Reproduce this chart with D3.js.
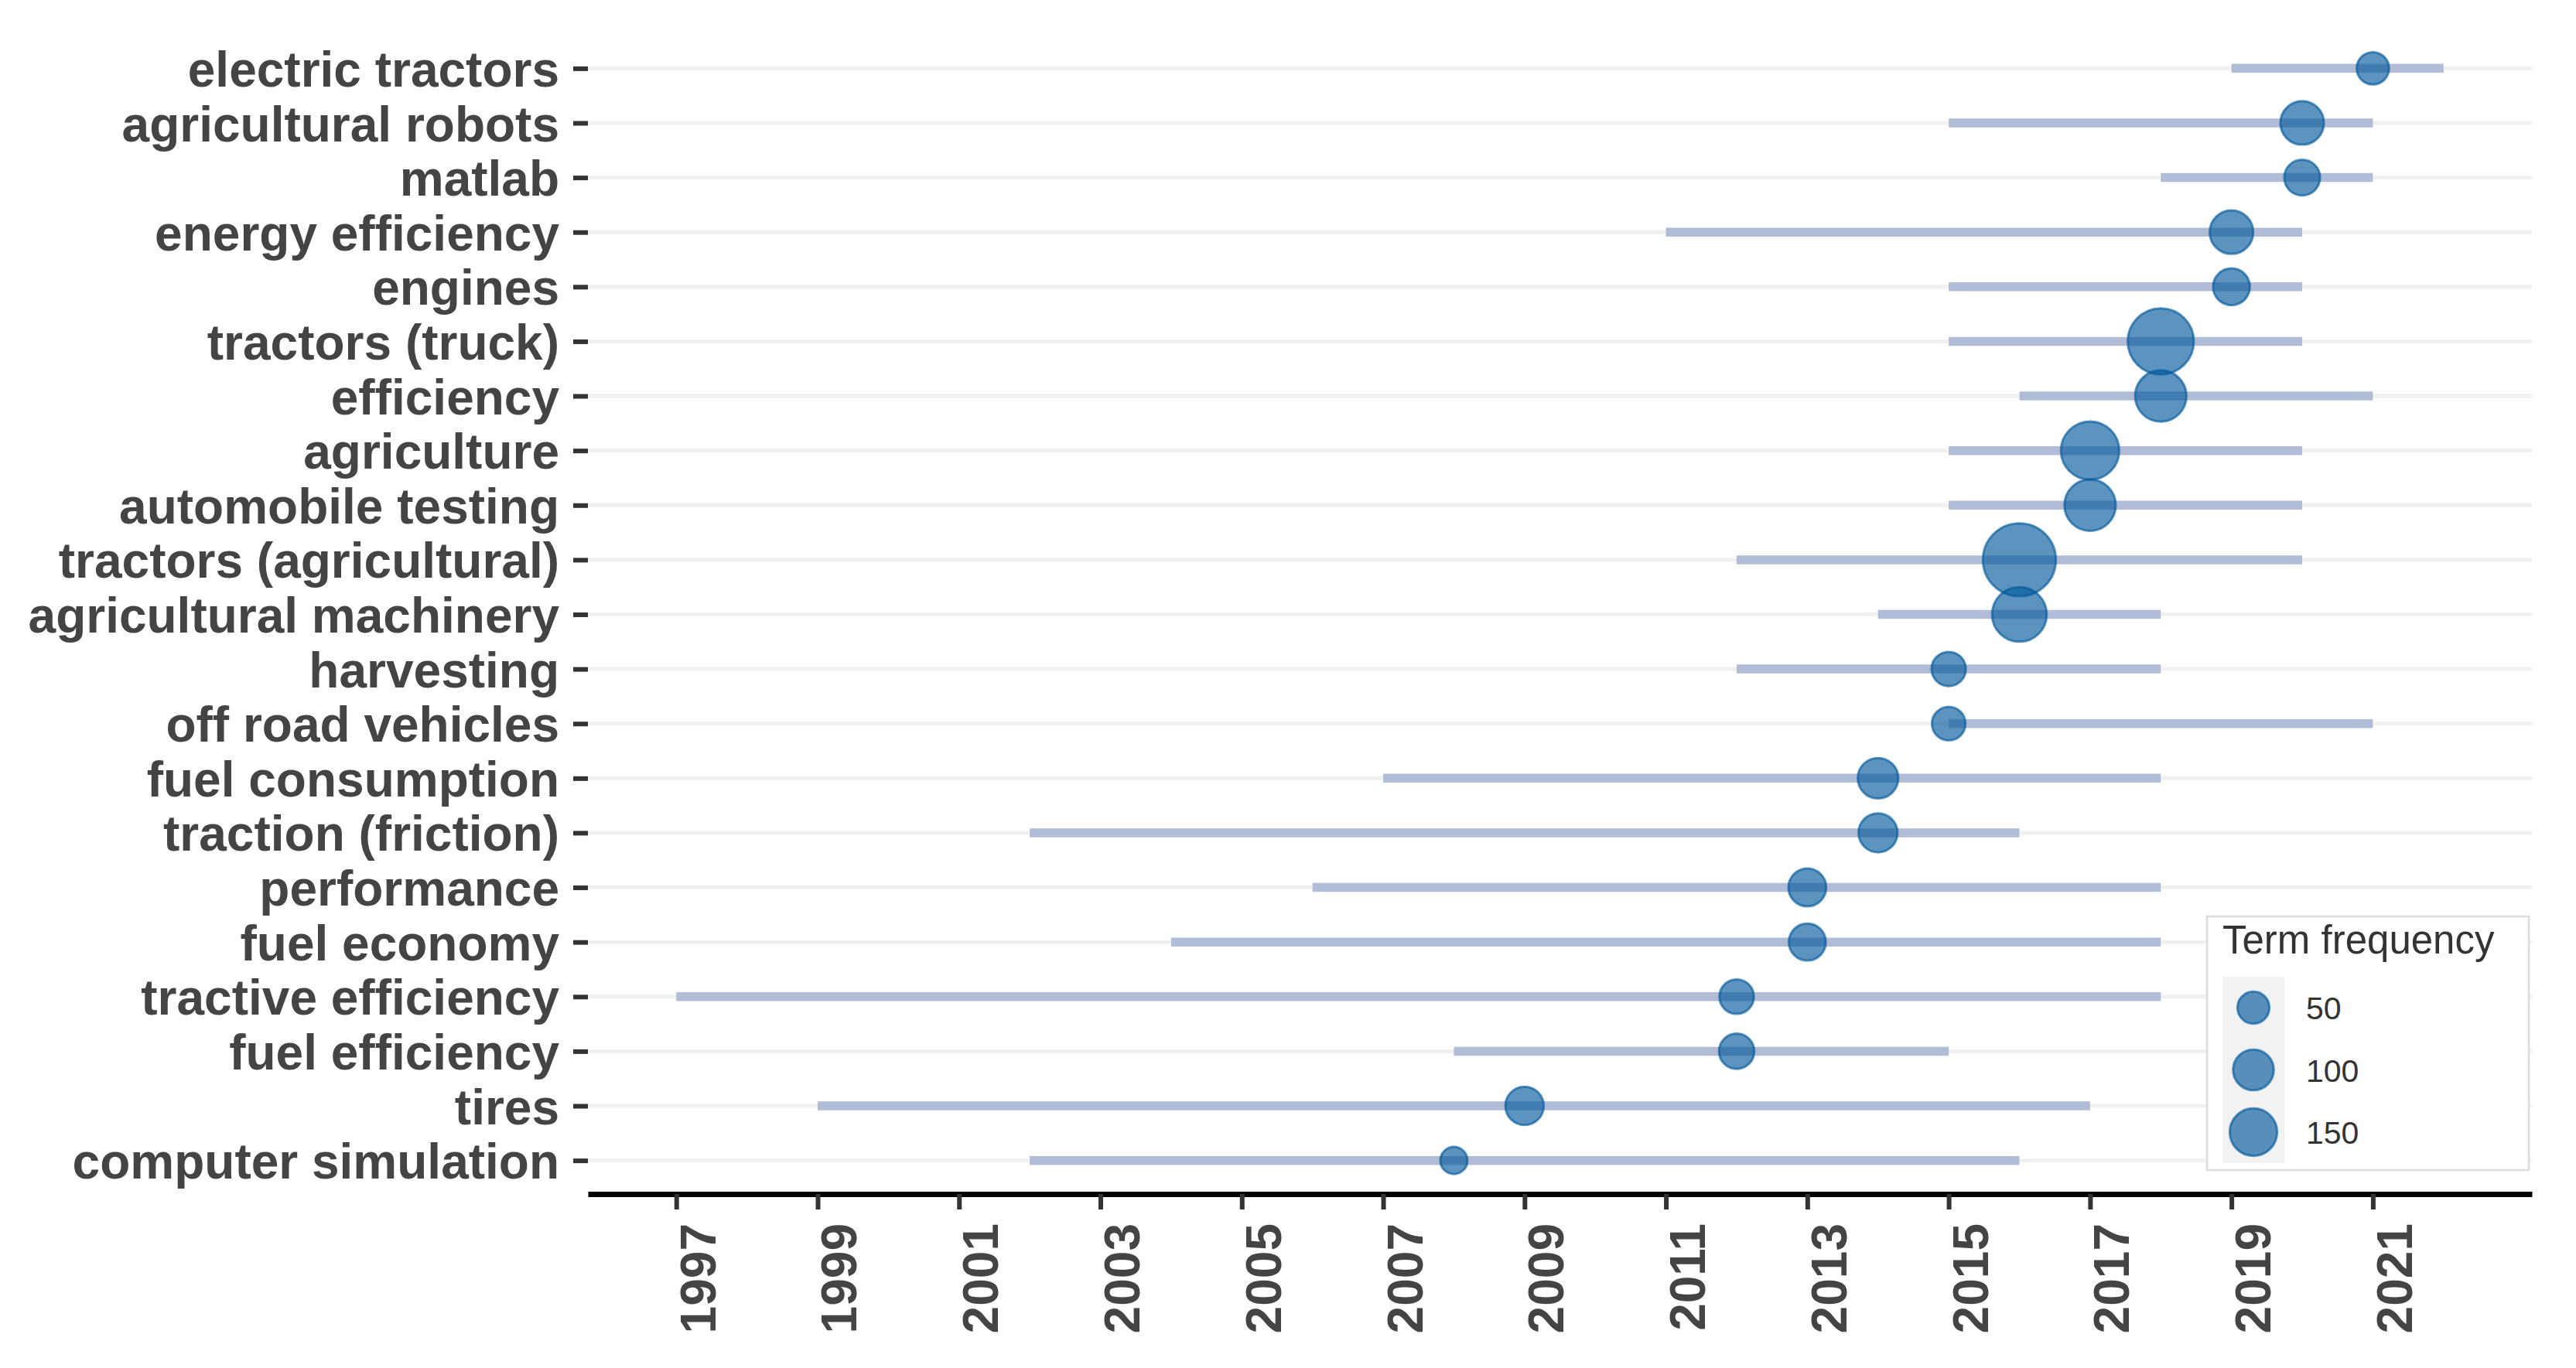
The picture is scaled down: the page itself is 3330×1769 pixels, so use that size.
<!DOCTYPE html>
<html>
<head>
<meta charset="utf-8">
<script src="https://cdn.jsdelivr.net/npm/d3@7"></script>
<style>
  body { margin: 0; background: #fff; }
  svg { display: block; font-family: "Liberation Sans", Arial, sans-serif; }
</style>
</head>
<body>
<div id="chart"></div>
<script>
// Terms, top to bottom
const terms = [
  "electric tractors", "agricultural robots", "matlab", "energy efficiency",
  "engines", "tractors (truck)", "efficiency", "agriculture",
  "automobile testing", "tractors (agricultural)", "agricultural machinery",
  "harvesting", "off road vehicles", "fuel consumption", "traction (friction)",
  "performance", "fuel economy", "tractive efficiency", "fuel efficiency",
  "tires", "computer simulation"
];
// first quartile year, median year, third quartile year, frequency
const yearQ1 = [2019, 2015, 2018, 2011, 2015, 2015, 2016, 2015, 2015, 2012, 2014,
                2012, 2015, 2007, 2002, 2006, 2004, 1997, 2008, 1999, 2002];
const yearMed = [2021, 2020, 2020, 2019, 2019, 2018, 2018, 2017, 2017, 2016, 2016,
                 2015, 2015, 2014, 2014, 2013, 2013, 2012, 2012, 2009, 2008];
const yearQ3 = [2022, 2021, 2021, 2020, 2020, 2020, 2021, 2020, 2020, 2020, 2018,
                2018, 2021, 2018, 2016, 2018, 2018, 2018, 2015, 2017, 2016];
const freq = [52, 120, 70, 120, 76, 343, 184, 252, 184, 433, 216,
              62, 58, 99, 89, 82, 77, 63, 67, 85, 30];

const yearTicks = [1997, 1999, 2001, 2003, 2005, 2007, 2009, 2011, 2013, 2015,
                   2017, 2019, 2021];
const legendBreaks = [50, 100, 150];

const data = terms.map((t, i) => ({
  term: t, q1: yearQ1[i], med: yearMed[i], q3: yearQ3[i], freq: freq[i]
}));

const W = 3330, H = 1769;
const plot = { left: 760, right: 3273, top: 46, bottom: 1543 };

const svg = d3.select("#chart").append("svg")
  .attr("width", W).attr("height", H);

const x = d3.scaleLinear().domain([1995.75, 2023.25]).range([plot.left, plot.right]);
const y = d3.scalePoint().domain(terms).range([plot.top, plot.bottom]).padding(0.6);
const r = d3.scaleSqrt().domain([0, 400]).range([7, 45.6]);

const dotColor = "#00589b";
const textColor = "#444";

// horizontal grid lines
svg.append("g").selectAll("line").data(terms).join("line")
  .attr("x1", plot.left).attr("x2", plot.right)
  .attr("y1", d => y(d)).attr("y2", d => y(d))
  .attr("stroke", "#f0f0f0").attr("stroke-width", 5);

// quartile ranges
svg.append("g").selectAll("line").data(data).join("line")
  .attr("x1", d => x(d.q1)).attr("x2", d => x(d.q3))
  .attr("y1", d => y(d.term)).attr("y2", d => y(d.term))
  .attr("stroke", "#b1bdd6").attr("stroke-width", 11.5);

// median points
svg.append("g").selectAll("circle").data(data).join("circle")
  .attr("cx", d => x(d.med)).attr("cy", d => y(d.term))
  .attr("r", d => r(d.freq))
  .attr("fill", dotColor).attr("fill-opacity", 0.64)
  .attr("stroke", dotColor).attr("stroke-opacity", 0.64).attr("stroke-width", 3);

// y axis (no domain line)
const yAxis = svg.append("g")
  .attr("transform", `translate(${plot.left},0)`)
  .call(d3.axisLeft(y).tickSize(19).tickPadding(18));
yAxis.select(".domain").remove();
yAxis.selectAll(".tick line").attr("stroke", "#333").attr("stroke-width", 6);
yAxis.selectAll(".tick text")
  .attr("fill", textColor).attr("font-size", 64).attr("font-weight", "bold")
  .attr("font-family", "'Liberation Sans', Arial, sans-serif")
  .attr("dy", "0.36em");

// x axis
const xAxis = svg.append("g")
  .attr("transform", `translate(0,${plot.bottom + 1})`)
  .call(d3.axisBottom(x).tickValues(yearTicks).tickFormat(d3.format("d"))
    .tickSize(20).tickSizeOuter(0));
xAxis.select(".domain").attr("stroke", "#000").attr("stroke-width", 7);
xAxis.selectAll(".tick line").attr("stroke", "#333").attr("stroke-width", 6);
xAxis.selectAll(".tick text")
  .attr("fill", textColor).attr("font-size", 64).attr("font-weight", "bold")
  .attr("font-family", "'Liberation Sans', Arial, sans-serif")
  .attr("x", 0).attr("y", 0).attr("dy", null)
  .attr("text-anchor", "end")
  .attr("transform", "translate(50,38) rotate(-90)");

// legend
const lg = svg.append("g").attr("transform", "translate(2853,1185)");
lg.append("rect").attr("width", 416).attr("height", 328)
  .attr("fill", "#fff").attr("stroke", "#dcdcdc").attr("stroke-width", 2.5);
lg.append("text").attr("x", 20).attr("y", 48)
  .attr("font-size", 51).attr("fill", "#333").text("Term frequency");
lg.append("rect").attr("x", 20).attr("y", 78).attr("width", 80).attr("height", 241)
  .attr("fill", "#f2f2f2");
const keyY = d3.scalePoint().domain(legendBreaks).range([118, 279]);
lg.selectAll("circle").data(legendBreaks).join("circle")
  .attr("cx", 60).attr("cy", d => keyY(d)).attr("r", d => r(d))
  .attr("fill", dotColor).attr("fill-opacity", 0.64)
  .attr("stroke", dotColor).attr("stroke-opacity", 0.64).attr("stroke-width", 3);
lg.selectAll("text.lab").data(legendBreaks).join("text")
  .attr("class", "lab")
  .attr("x", 128).attr("y", d => keyY(d) + 15)
  .attr("font-size", 41).attr("fill", "#333").text(d => d);
</script>
</body>
</html>
